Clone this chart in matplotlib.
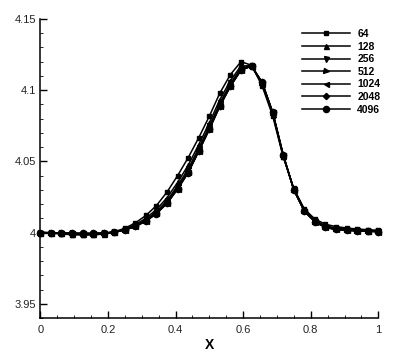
import numpy as np
import matplotlib
matplotlib.use("Agg")
import matplotlib.pyplot as plt
from matplotlib.ticker import FixedFormatter, FixedLocator

plt.rcParams["font.family"] = ["Liberation Sans", "DejaVu Sans"]

# sample positions of the markers (33 points)
x = np.linspace(0.0, 1.0, 33)

labels = ["64", "128", "256", "512", "1024", "2048", "4096"]
markers = ["s", "^", "v", ">", "<", "D", "o"]
msizes = [3.2, 3.6, 3.6, 3.6, 3.6, 3.2, 4.4]

y64 = [4.0000, 3.9995, 3.9990, 3.9985, 3.9982, 3.9983, 3.9990, 4.0005, 4.0030,
       4.0068, 4.0120, 4.0190, 4.0285, 4.0400, 4.0526, 4.0666, 4.0817, 4.0980,
       4.1110, 4.1200, 4.1175, 4.1030, 4.0820, 4.0530, 4.0310, 4.0165, 4.0095,
       4.0058, 4.0042, 4.0032, 4.0025, 4.0020, 4.0016]
y128 = [4.0000, 3.9997, 3.9994, 3.9990, 3.9988, 3.9989, 3.9993, 4.0004, 4.0024,
        4.0056, 4.0100, 4.0162, 4.0245, 4.0352, 4.0473, 4.0618, 4.0770, 4.0934,
        4.1068, 4.1170, 4.1172, 4.1042, 4.0832, 4.0538, 4.0305, 4.0158, 4.0085,
        4.0047, 4.0032, 4.0024, 4.0018, 4.0014, 4.0011]
y256 = [4.0000, 3.9998, 3.9995, 3.9993, 3.9991, 3.9991, 3.9995, 4.0004, 4.0021,
        4.0049, 4.0090, 4.0147, 4.0225, 4.0329, 4.0447, 4.0594, 4.0747, 4.0910,
        4.1048, 4.1155, 4.1171, 4.1049, 4.0839, 4.0541, 4.0303, 4.0154, 4.0080,
        4.0042, 4.0027, 4.0020, 4.0015, 4.0012, 4.0009]
y512 = [4.0000, 3.9999, 3.9996, 3.9994, 3.9993, 3.9993, 3.9995, 4.0003, 4.0019,
        4.0046, 4.0084, 4.0139, 4.0213, 4.0315, 4.0431, 4.0580, 4.0733, 4.0896,
        4.1035, 4.1146, 4.1170, 4.1053, 4.0843, 4.0544, 4.0301, 4.0152, 4.0077,
        4.0038, 4.0024, 4.0018, 4.0013, 4.0010, 4.0008]
y1024 = [4.0000, 3.9999, 3.9997, 3.9995, 3.9994, 3.9994, 3.9996, 4.0003, 4.0018,
         4.0044, 4.0082, 4.0135, 4.0208, 4.0309, 4.0424, 4.0574, 4.0728, 4.0891,
         4.1030, 4.1142, 4.1170, 4.1054, 4.0844, 4.0544, 4.0300, 4.0151, 4.0076,
         4.0037, 4.0023, 4.0017, 4.0013, 4.0009, 4.0007]
y2048 = [4.0000, 3.9999, 3.9997, 3.9995, 3.9994, 3.9994, 3.9996, 4.0003, 4.0018,
         4.0043, 4.0081, 4.0134, 4.0206, 4.0306, 4.0421, 4.0571, 4.0725, 4.0888,
         4.1028, 4.1141, 4.1170, 4.1055, 4.0845, 4.0545, 4.0300, 4.0150, 4.0075,
         4.0036, 4.0022, 4.0016, 4.0012, 4.0009, 4.0007]
y4096 = [4.0000, 3.9999, 3.9997, 3.9995, 3.9994, 3.9994, 3.9996, 4.0003, 4.0018,
         4.0043, 4.0080, 4.0133, 4.0205, 4.0305, 4.0420, 4.0570, 4.0724, 4.0887,
         4.1027, 4.1140, 4.1170, 4.1055, 4.0845, 4.0545, 4.0300, 4.0150, 4.0075,
         4.0036, 4.0022, 4.0016, 4.0012, 4.0009, 4.0007]

series = [y64, y128, y256, y512, y1024, y2048, y4096]

W, H = 399, 355
fig = plt.figure(figsize=(W / 100, H / 100), dpi=100)
ax = fig.add_axes([40.3 / W, 1 - 318 / H, (378.3 - 40.3) / W, (318 - 19) / H])

for ys, lab, mk, ms in zip(series, labels, markers, msizes):
    ax.plot(x, ys, color="black", lw=1.1, marker=mk, ms=ms,
            mfc="black", mec="black", label=lab, clip_on=False)

ax.set_xlim(0, 1)
ax.set_ylim(3.94, 4.15)

ax.spines["top"].set_visible(False)
ax.spines["right"].set_visible(False)
ax.spines["left"].set_linewidth(1.1)
ax.spines["bottom"].set_linewidth(1.1)

ax.xaxis.set_major_locator(FixedLocator([0, 0.2, 0.4, 0.6, 0.8, 1.0]))
ax.xaxis.set_major_formatter(FixedFormatter(["0", "0.2", "0.4", "0.6", "0.8", "1"]))
ax.xaxis.set_minor_locator(FixedLocator(np.arange(0, 1.001, 0.05)))
ax.yaxis.set_major_locator(FixedLocator([3.95, 4.0, 4.05, 4.1, 4.15]))
ax.yaxis.set_major_formatter(FixedFormatter(["3.95", "4", "4.05", "4.1", "4.15"]))
ax.yaxis.set_minor_locator(FixedLocator(np.arange(3.94, 4.1501, 0.01)))

ax.tick_params(which="both", direction="in", color="black", labelsize=8, labelcolor="#222222")
ax.tick_params(which="major", length=5, width=1.0)
ax.tick_params(which="minor", length=2.5, width=0.6)
ax.tick_params(axis="x", which="major", pad=5)
ax.tick_params(axis="y", which="major", pad=3)

ax.set_xlabel("X", fontsize=10, fontweight="bold", labelpad=2)

leg = ax.legend(loc="upper left", bbox_to_anchor=(302 / W, 1 - 29 / H),
                bbox_transform=fig.transFigure, frameon=False, numpoints=1,
                handlelength=4.6, handletextpad=0.7, labelspacing=0.25,
                borderpad=0, borderaxespad=0, prop={"weight": "bold", "size": 7.5})

fig.savefig("out.png", dpi=100)
